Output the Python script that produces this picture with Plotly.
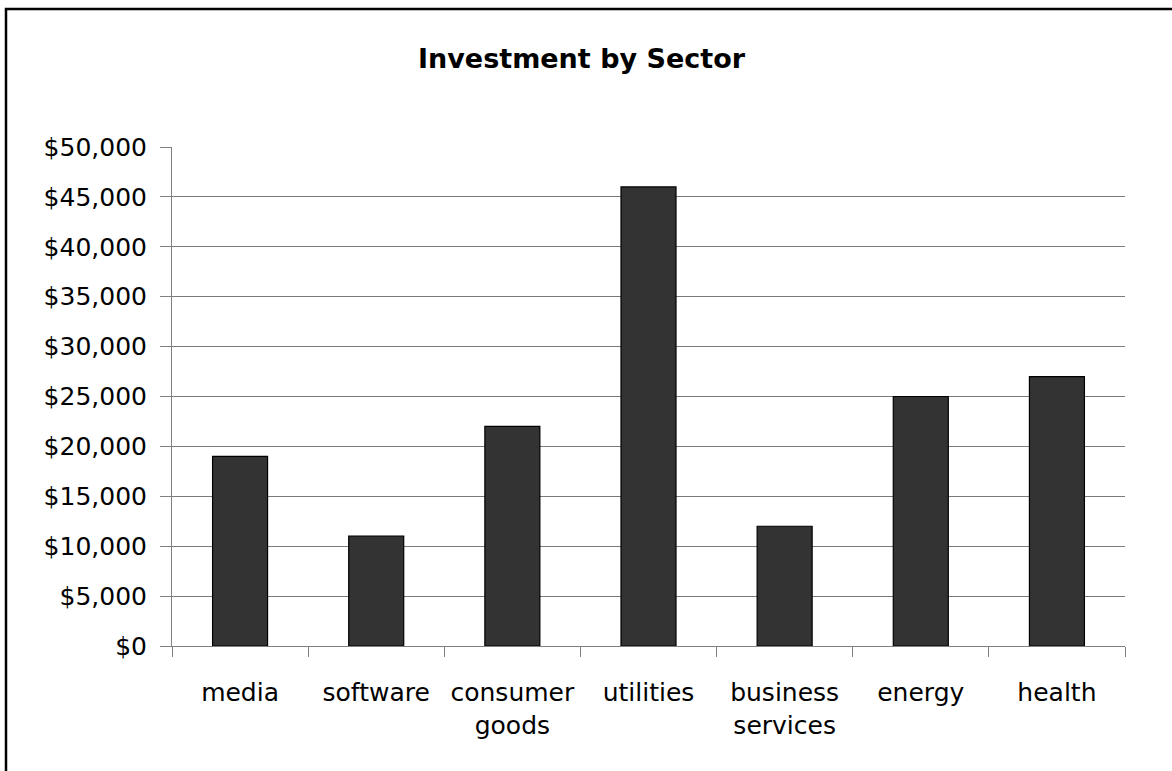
import plotly.graph_objects as go

categories = ["media", "software", "consumer<br>goods", "utilities", "business<br>services", "energy", "health"]
values = [19000, 11000, 22000, 46000, 12000, 25000, 27000]
y_ticks = list(range(0, 50001, 5000))
y_tick_labels = ["$" + format(v, ",") for v in y_ticks]

W, H = 1172, 771
ML, MR, MT, MB = 172, 47, 147, 125
pw = W - ML - MR
ph = H - MT - MB

fig = go.Figure(go.Bar(
    x=categories, y=values,
    marker=dict(color="#333333", line=dict(color="#000000", width=1.2)),
))

font_family = "DejaVu Sans"
fig.update_layout(
    width=W, height=H,
    margin=dict(l=ML, r=MR, t=MT, b=MB, pad=0),
    paper_bgcolor="white", plot_bgcolor="white",
    bargap=0.596,
    showlegend=False,
    font=dict(family=font_family, size=25, color="black"),
    title=dict(text="<b>Investment by Sector</b>", x=581.5 / W, xanchor="center",
               y=1 - 59 / H, yanchor="middle",
               font=dict(family=font_family, size=27, color="black")),
    xaxis=dict(showline=True, linecolor="#808080", linewidth=1,
               ticks="outside", tickson="boundaries", ticklen=10, tickcolor="#808080",
               showgrid=False, tickfont=dict(size=25), ticklabelstandoff=24),
    yaxis=dict(range=[0, 50000], tickvals=y_ticks, ticktext=y_tick_labels,
               showline=True, linecolor="#808080", linewidth=1,
               ticks="outside", ticklen=11, tickcolor="#808080",
               showgrid=True, gridcolor="#7a7a7a", gridwidth=1,
               zeroline=False, tickfont=dict(size=25), ticklabelstandoff=8),
    shapes=[dict(type="rect", xref="paper", yref="paper",
                 x0=(6 - ML) / pw, x1=(W + 20 - ML) / pw,
                 y0=-(H + 20 - MT - ph) / ph,
                 y1=(MT + ph - 9) / ph,
                 line=dict(color="black", width=2.5), fillcolor="rgba(0,0,0,0)", layer="above")],
)

fig.write_html("out.html")
